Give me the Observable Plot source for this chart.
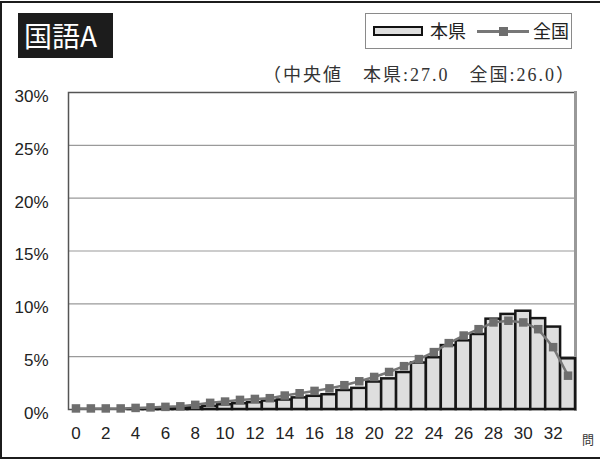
<!DOCTYPE html>
<html>
<head>
<meta charset="utf-8">
<script src="https://cdn.jsdelivr.net/npm/d3@7"></script>
<script src="https://cdn.jsdelivr.net/npm/@observablehq/plot@0.6"></script>
<style>
  body { margin: 0; background: #fff; }
  #chart { position: relative; width: 600px; height: 461px; overflow: hidden;
           font-family: "Noto Sans CJK JP", "Noto Sans", sans-serif; color: #222; }
  #chart svg { position: absolute; left: 0; top: 0; }
  .border { position: absolute; left: 0; top: 1px; width: 640px; height: 454px;
            border: 2.5px solid #1c1c1c; }
  .title { position: absolute; left: 18px; top: 13px; width: 89px; height: 45px;
           padding-left: 6px; background: #1c1c1c; color: #fff; font-size: 28px;
           line-height: 45px; }
  .legend { position: absolute; left: 365px; top: 13px; width: 205px; height: 34px;
            border: 1px solid #8a8a8a; background: #fff; }
  .legend .swatch { position: absolute; left: 7px; top: 12px; width: 46px; height: 6px;
                    border: 2.5px solid #111; background: #dedede; }
  .legend .lbl { position: absolute; top: 4px; font-size: 18px; line-height: 25px; }
  .legend .ln { position: absolute; left: 111px; top: 16px; width: 52px; height: 2.5px; background: #777; }
  .legend .mk { position: absolute; left: 133px; top: 12.5px; width: 9px; height: 9px; background: #6e6e6e; }
  .sub { position: absolute; right: 24px; top: 60px; font-size: 18px; white-space: nowrap;
         letter-spacing: 2px;
         font-family: "Liberation Serif", "DejaVu Serif", "Noto Sans CJK JP", serif; color: #333; }
  .unit { position: absolute; left: 582px; top: 431px; font-size: 12px; color: #333; }
</style>
</head>
<body>
<div id="chart">
  <div class="border"></div>
</div>
<script>
// Score distribution: share of students (%) at each number of correct answers
const scores = d3.range(0, 34);
const prefShare = [0.0, 0.0, 0.0, 0.0, 0.05, 0.05, 0.1, 0.1, 0.2, 0.3,
                   0.45, 0.55, 0.65, 0.8, 0.9, 1.1, 1.25, 1.4, 1.8, 2.0,
                   2.6, 2.9, 3.5, 4.4, 4.9, 6.05, 6.5, 7.1, 8.55, 9.0,
                   9.3, 8.6, 7.8, 4.8];
const nationalShare = [0.1, 0.1, 0.1, 0.1, 0.15, 0.2, 0.25, 0.3, 0.44, 0.63,
                       0.75, 0.91, 1.0, 1.07, 1.32, 1.54, 1.76, 2.0, 2.3, 2.67,
                       3.08, 3.55, 4.1, 4.77, 5.43, 6.28, 7.0, 7.6, 8.24, 8.4,
                       8.24, 7.6, 5.9, 3.2];
const yTicks = [0, 5, 10, 15, 20, 25, 30];
const xTicks = scores.filter(d => d % 2 === 0);
const seriesNames = ["本県", "全国"];
const titleText = "国語A";
const subtitleText = "（中央値　本県:27.0　全国:26.0）";
const unitText = "問";

const rows = scores.map((s, i) => ({score: s, pref: prefShare[i], national: nationalShare[i]}));

const plot = Plot.plot({
  width: 600,
  height: 461,
  marginLeft: 68,
  marginRight: 25,
  marginTop: 92,
  marginBottom: 52,
  style: {fontFamily: "'Liberation Sans', Arial, sans-serif", fontSize: "17px", color: "#222", background: "transparent"},
  x: {type: "band", domain: scores, padding: 0},
  y: {domain: [0, 30]},
  marks: [
    Plot.ruleY(yTicks, {stroke: "#9a9a9a", strokeWidth: 1.2}),
    Plot.frame({stroke: "#555", strokeWidth: 1.5}),
    Plot.frame({anchor: "right", stroke: "#999", strokeWidth: 3}),
    Plot.barY(rows, {x: "score", y: "pref", fill: "#dedede", stroke: "#161616", strokeWidth: 2.5}),
    Plot.line(rows, {x: "score", y: "national", stroke: "#777", strokeWidth: 2.5}),
    Plot.dot(rows, {x: "score", y: "national", symbol: "square", r: 4.8, fill: "#6e6e6e", stroke: "none"}),
    Plot.axisY({ticks: yTicks, tickFormat: d => d + "%", tickSize: 0, tickPadding: 20, label: null, dy: 4}),
    Plot.axisX({ticks: xTicks, tickSize: 0, tickPadding: 17, label: null})
  ]
});

const chart = document.getElementById("chart");
chart.insertBefore(plot, chart.firstChild);

const title = document.createElement("div");
title.className = "title";
title.textContent = titleText;
chart.appendChild(title);

const legend = document.createElement("div");
legend.className = "legend";
legend.innerHTML = `<div class="swatch"></div>
  <div class="lbl" style="left:64px">${seriesNames[0]}</div>
  <div class="ln"></div><div class="mk"></div>
  <div class="lbl" style="left:167px">${seriesNames[1]}</div>`;
chart.appendChild(legend);

const sub = document.createElement("div");
sub.className = "sub";
sub.textContent = subtitleText;
chart.appendChild(sub);

const unit = document.createElement("div");
unit.className = "unit";
unit.textContent = unitText;
chart.appendChild(unit);
</script>
</body>
</html>
